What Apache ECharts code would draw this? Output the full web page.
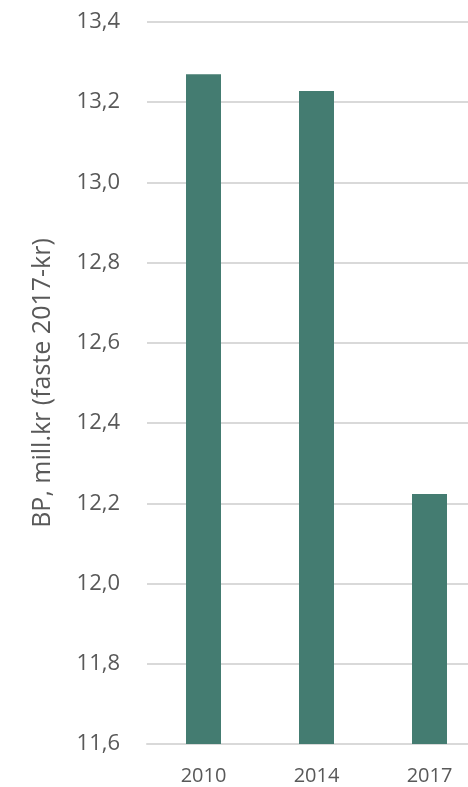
<!DOCTYPE html>
<html><head><meta charset="utf-8">
<script src="https://cdn.jsdelivr.net/npm/echarts@6/dist/echarts.min.js"></script>
<style>html,body{margin:0;padding:0;background:#fff}#c{width:468px;height:787px}</style>
</head><body><div id="c"></div>
<script>
const categories = ['2010', '2014', '2017'];
const values = [13.27, 13.228, 12.223];
const yMin = 11.6, yMax = 13.4, yStep = 0.2;
const yTitle = 'BP, mill.kr (faste 2017-kr)';

const chart = echarts.init(document.getElementById('c'), null, {renderer: 'canvas'});
chart.setOption({
  animation: false,
  grid: {left: 147, top: 22, right: -18, bottom: 43, outerBoundsMode: 'none'},
  xAxis: {
    type: 'category', data: categories,
    axisLine: {lineStyle: {color: '#d9d9d9', width: 2}},
    axisTick: {show: false},
    axisLabel: {color: '#595959', fontSize: 20, fontFamily: 'Open Sans', margin: 22}
  },
  yAxis: {
    type: 'value', min: yMin, max: yMax, interval: yStep,
    name: yTitle, nameLocation: 'middle', nameGap: 92, nameRotate: 90,
    nameTextStyle: {color: '#595959', fontSize: 25, fontFamily: 'Open Sans'},
    axisLine: {show: false}, axisTick: {show: false},
    splitLine: {lineStyle: {color: '#d9d9d9', width: 2}},
    axisLabel: {color: '#595959', fontSize: 22, fontFamily: 'Open Sans', margin: 27,
      formatter: v => v.toFixed(1).replace('.', ',')}
  },
  series: [{
    type: 'bar', data: values, barWidth: 35,
    itemStyle: {color: '#447c71'}
  }]
});
</script></body></html>
